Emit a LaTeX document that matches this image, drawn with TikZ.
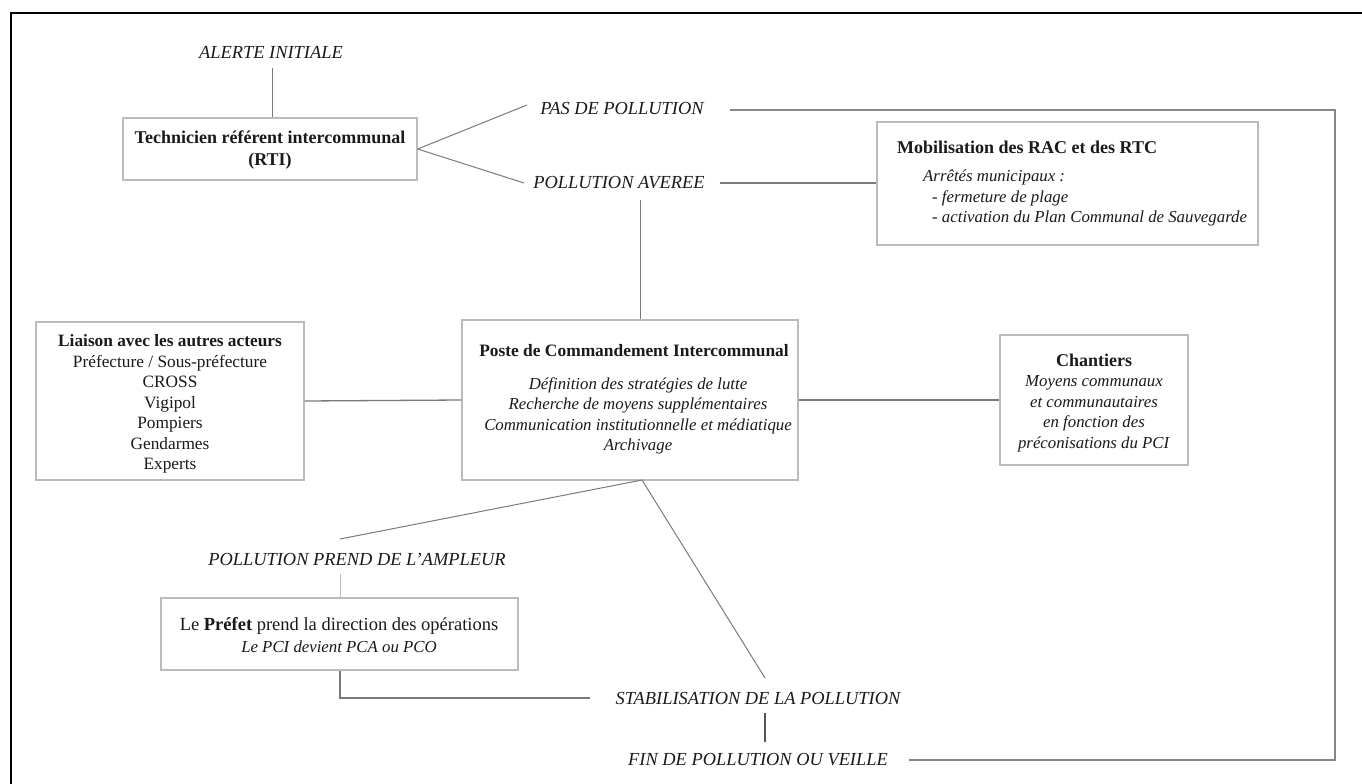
\documentclass[tikz,border=0pt]{standalone}
\usepackage{fontspec}
\setmainfont{Liberation Serif}
\definecolor{txt}{HTML}{1A1A1A}
\definecolor{boxgray}{HTML}{BBBBBB}
\definecolor{linegray}{HTML}{7A7A7A}
\begin{document}
\begin{tikzpicture}[x=1pt,y=-1pt,
  font=\fontsize{16.8}{20.5}\selectfont,
  every node/.style={text=txt},
  boxnode/.style={draw=boxgray,line width=1.3pt,fill=white,inner sep=0pt},
  lbl/.style={font=\fontsize{18.4}{20.5}\selectfont\itshape,inner sep=0pt},
  itl/.style={font=\fontsize{16.8}{20.5}\selectfont\itshape,inner sep=0pt},
  txtnode/.style={inner sep=0pt,align=center},
  conn/.style={draw=linegray,line width=1pt},
  loopline/.style={draw=linegray!90,line width=1.6pt}]
\useasboundingbox (0,0) rectangle (1362,784);
% outer frame (cropped)
\draw[black,line width=2pt] (1362,13) -- (11,13) -- (11,784);

% nodes
\node[lbl] (alerte) at (271,52) {ALERTE INITIALE};
\node[boxnode,minimum width=294pt,minimum height=62pt] (rti) at (270,149) {};
\node[txtnode,font=\fontsize{18}{22}\selectfont\bfseries] (rtit) at (270,150) {Technicien référent intercommunal\\(RTI)};
\node[lbl] (pas) at (622,108) {PAS DE POLLUTION};
\node[lbl] (averee) at (619,183) {POLLUTION AVEREE};

\node[boxnode,minimum width=381pt,minimum height=123pt] (mob) at (1067.5,183.5) {};
\node[inner sep=0pt,anchor=west,font=\fontsize{18}{20.5}\selectfont\bfseries] (mobt) at (897,147) {Mobilisation des RAC et des RTC};
\node[itl,anchor=west] (moba) at (923,177) {Arrêtés municipaux :};
\node[itl,anchor=west] (mob1) at (932,198) {- fermeture de plage};
\node[itl,anchor=west] (mob2) at (932,218) {- activation du Plan Communal de Sauvegarde};

\node[boxnode,minimum width=268pt,minimum height=158pt] (liaison) at (170,401) {};
\node[txtnode,font=\fontsize{17.3}{20.5}\selectfont] (liaisont) at (170,404) {\textbf{Liaison avec les autres acteurs}\\Préfecture / Sous-préfecture\\CROSS\\Vigipol\\Pompiers\\Gendarmes\\Experts};

\node[boxnode,minimum width=336pt,minimum height=160pt] (pci) at (630,400) {};
\node[inner sep=0pt,font=\fontsize{17.4}{20.5}\selectfont\bfseries] (pcit) at (634,351) {Poste de Commandement Intercommunal};
\node[txtnode,font=\fontsize{16.8}{20.5}\selectfont\itshape] (pcib) at (638,416) {Définition des stratégies de lutte\\Recherche de moyens supplémentaires\\Communication institutionnelle et médiatique\\Archivage};

\node[boxnode,minimum width=188pt,minimum height=130pt] (chant) at (1094,400) {};
\node[txtnode] (chantt) at (1094,403) {{\fontsize{18}{20.5}\selectfont\textbf{Chantiers}}\\\textit{Moyens communaux}\\\textit{et communautaires}\\\textit{en fonction des}\\\textit{préconisations du PCI}};

\node[lbl] (prend) at (357,559) {POLLUTION PREND DE L'AMPLEUR};
\node[boxnode,minimum width=357pt,minimum height=72pt] (prefet) at (339.5,634) {};
\node[txtnode,font=\fontsize{16.8}{22}\selectfont] (prefett) at (339,635) {{\fontsize{18.5}{22}\selectfont Le \textbf{Préfet} prend la direction des opérations}\\\textit{Le PCI devient PCA ou PCO}};

\node[lbl] (stab) at (758,698) {STABILISATION DE LA POLLUTION};
\node[lbl] (fin) at (758,760) {FIN DE POLLUTION OU VEILLE};

% helper coordinates (free ends of connectors)
\coordinate (alerteB) at (272,68);
\coordinate (pasL) at (527,105);
\coordinate (avL) at (524,183);
\coordinate (avR) at (720,183);
\coordinate (avB) at (640,200);
\coordinate (pcibot) at (642,480);
\coordinate (pciend) at (340,539);
\coordinate (stabtop) at (765,678);
\coordinate (prendB) at (340,574);
\coordinate (stabL) at (590,698);
\coordinate (stabB) at (765,713);
\coordinate (finT) at (765,742);
\coordinate (pasR) at (730,110);
\coordinate (finR) at (909,760);

% connectors
\draw[conn] (alerteB) -- (alerteB |- rti.north);
\draw[conn] (rti.east) -- (pasL);
\draw[conn] (rti.east) -- (avL);
\draw[conn,line width=1.3pt] (avR) -- (avR -| mob.west);
\draw[conn] (avB) -- (avB |- pci.north);
\draw[conn,line width=1.3pt] (liaison.east) -- (pci.west);
\draw[conn,line width=1.3pt] (pci.east) -- (chant.west);
\draw[conn] (pcibot) -- (pciend);
\draw[conn] (pcibot) -- (stabtop);
\draw[conn,draw=boxgray] (prendB) -- (prendB |- prefet.north);
\draw[conn,line width=1.3pt] (prendB |- prefet.south) -- (prendB |- stabL) -- (stabL);
\draw[draw=linegray!70!black,line width=2pt] (stabB) -- (finT);
\draw[loopline] (pasR) -- (1335,110) -- (1335,760) -- (finR);
\end{tikzpicture}
\end{document}
